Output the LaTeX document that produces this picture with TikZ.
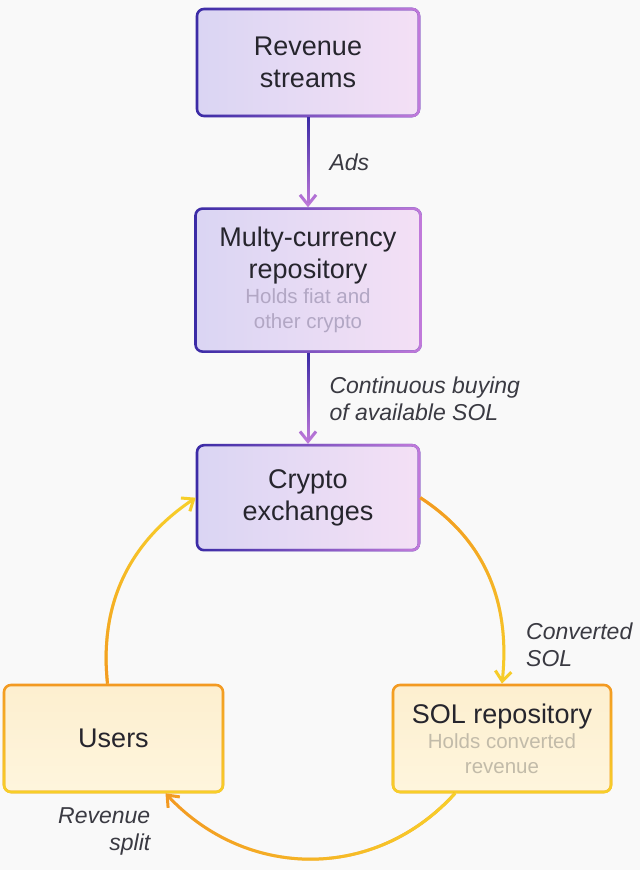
\documentclass[tikz,border=0pt]{standalone}
\usepackage{fontspec}
\setmainfont{Liberation Sans}
\usepackage{tikz}
\usetikzlibrary{
  positioning,
  arrows.meta,
  fadings,
  calc
}
\definecolor{pdark}{HTML}{3B2BA6}
\definecolor{plight}{HTML}{C27BDB}
\definecolor{pfillL}{HTML}{DAD5F3}
\definecolor{pfillR}{HTML}{F4E0F5}
\definecolor{oline}{HTML}{F39A22}
\definecolor{yline}{HTML}{F8D02A}
\definecolor{ofillT}{HTML}{FDEFCF}
\definecolor{ofillB}{HTML}{FEF5DD}
\definecolor{ink}{HTML}{26252D}
\definecolor{edgeink}{HTML}{3A3A42}
\definecolor{subp}{HTML}{B2A7C4}
\definecolor{subo}{HTML}{C2BBA9}
\definecolor{bgc}{HTML}{F9F9F9}

\tikzfading[name=fadedown, top color=transparent!0, bottom color=transparent!100]
\tikzfading[name=fadeup, top color=transparent!100, bottom color=transparent!0]
\tikzfading[name=fadeleft, left color=transparent!100, right color=transparent!0]

\newcommand\boxfont{\fontsize{27}{32}\selectfont}
\newcommand\notefont{\fontsize{20.5}{25}\selectfont}
\newcommand\edgefont{\fontsize{23}{27}\selectfont\itshape}

\begin{document}
\begin{tikzpicture}[
  x=1pt, y=1pt,
  every node/.style={font=\boxfont, text=ink},
  pbox/.style={rounded corners=7pt, line width=2.6pt, draw=pdark,
    left color=pfillL, right color=pfillR, align=center,
    minimum width=222pt, minimum height=107pt,
    postaction={draw=plight, path fading=fadeleft}},
  obox/.style={rounded corners=7pt, line width=2.6pt, draw=oline,
    top color=ofillT, bottom color=ofillB, align=center,
    minimum width=218pt, minimum height=107pt,
    postaction={draw=yline, path fading=fadeup}},
  flowlabel/.style={font=\edgefont, text=edgeink, inner sep=0pt},
  barb/.style={-{Straight Barb[length=10pt, width=16pt]}},
  pflow/.style={line width=3pt, draw=plight, barb,
    postaction={draw=pdark, path fading=fadedown, fit fading=false,
      fading transform={shift={#1}, yscale=1.8}}},
  warmflow/.style n args={3}{line width=3pt, draw=#1, barb,
    postaction={draw=#2, path fading=#3}}
]
% Background and page size
\fill[bgc] (0,0) rectangle (640,870);
\useasboundingbox (0,0) rectangle (640,870);

% Purple chain
\node[pbox] (rev) at (308,807.5) {Revenue\\streams};
\node[pbox, minimum width=225pt, minimum height=143pt, text width=205pt,
  align=flush center, below=90pt of rev] (mcr)
  {{\boxfont Multy-currency\\repository\par}%
   {\notefont\color{subp}Holds fiat and\\other crypto\par}};
\node[pbox, minimum height=105pt, below=91pt of mcr] (cex) {Crypto\\exchanges};

% Warm loop
\node[obox, minimum width=219pt] (usr) at (113.5,131.5) {Users};
\node[obox, text width=205pt, align=flush center] (sol) at (502,131.5)
  {{\boxfont SOL repository\par}%
   {\notefont\color{subo}Holds converted\\revenue\par}};

% Connectors
\draw[pflow={($(rev.south)!.5!(mcr.north)$)}] (rev) --
  node[flowlabel, right=20pt] {Ads} (mcr);
\draw[pflow={($(mcr.south)!.5!(cex.north)$)}] (mcr) --
  node[flowlabel, right=20pt, align=left] {Continuous buying\\of available SOL} (cex);
\draw[warmflow={yline}{oline}{fadedown}]
  (cex.east) to[out=-33, in=84] (sol.north);
\draw[warmflow={oline}{yline}{fadeleft}]
  ([xshift=-47pt]sol.south) to[out=-132, in=-47, looseness=1.05] ([xshift=52pt]usr.south);
\draw[warmflow={yline}{oline}{fadeup}]
  ([xshift=-6pt]usr.north) to[out=96, in=-146] (cex.west);

% Annotations
\node[flowlabel, anchor=west, align=left] at ([xshift=24pt, yshift=39pt]sol.north)
  {Converted\\SOL};
\node[flowlabel, anchor=east, align=right] at ([xshift=37pt, yshift=-38pt]usr.south)
  {Revenue\\split};

\end{tikzpicture}
\end{document}
